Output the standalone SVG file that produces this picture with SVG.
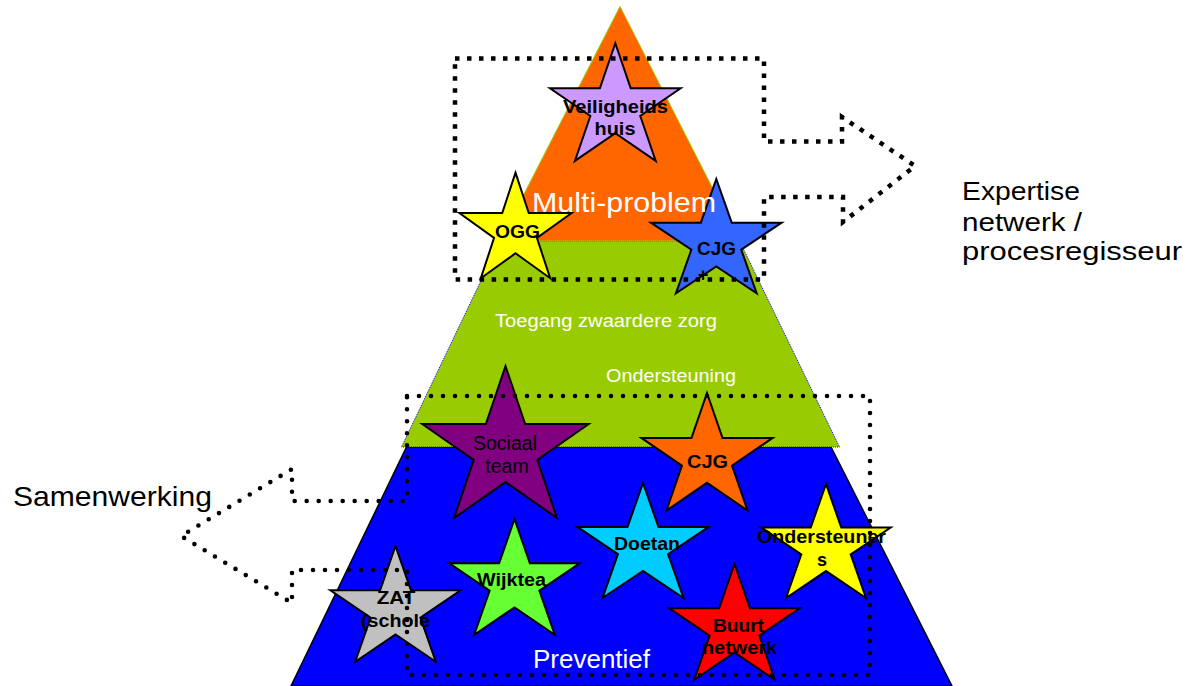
<svg xmlns="http://www.w3.org/2000/svg" xmlns:xlink="http://www.w3.org/1999/xlink" width="1187" height="686" viewBox="0 0 1187 686">
<style>
.lbl{font-family:"Liberation Sans",Arial,sans-serif;font-size:18px;font-weight:bold;fill:#000;text-anchor:middle}
.lbln{font-family:"Liberation Sans",Arial,sans-serif;font-size:19.5px;fill:#000;text-anchor:middle}
.wt{font-family:"Liberation Sans",Arial,sans-serif;fill:#fff}
.bk{font-family:"Liberation Sans",Arial,sans-serif;fill:#000}
.sq{fill:none;stroke:#000;stroke-width:4.5;stroke-dasharray:4.5 7.5;stroke-linecap:butt}
.rd{fill:none;stroke:#000;stroke-width:4.6;stroke-dasharray:0 12;stroke-linecap:round;stroke-linejoin:round}
</style>
<defs>
<path id="star" d="M0,-100 L22.45,-30.9 L95.11,-30.9 L36.33,11.8 L58.78,80.9 L0,38.2 L-58.78,80.9 L-36.33,11.8 L-95.11,-30.9 L-22.45,-30.9 Z" stroke="#000" stroke-width="2" vector-effect="non-scaling-stroke" stroke-linejoin="miter"/>
</defs>
<rect width="1187" height="686" fill="#fff"/>
<g id="pyramid">
<polygon id="layer-blue" points="406.5,447 831,447 952,686 291,686" fill="#0000FF" stroke="#000" stroke-width="1.5"/>
<polygon id="layer-green" points="500,241 739.5,241 839.5,447 401.5,447" fill="#99CC00" stroke="#0000FF" stroke-width="1" stroke-dasharray="1 1"/>
<polygon id="layer-orange" points="620,6.5 739.5,241 500,241" fill="#FF6600" stroke="#99CC00" stroke-width="1"/>
</g>
<g id="n-veiligheidshuis">
<use xlink:href="#star" transform="translate(615.3 108.3) scale(0.687 0.65)" fill="#CC99FF"/>
</g>
<g id="n-ogg">
<use xlink:href="#star" transform="translate(515.5 231) scale(0.59 0.584)" fill="#FFFF00"/>
</g>
<g id="n-cjgplus">
<use xlink:href="#star" transform="translate(716.3 242.2) scale(0.687 0.632)" fill="#3366FF"/>
</g>
<g id="n-sociaal">
<use xlink:href="#star" transform="translate(505.5 450) scale(0.875 0.84)" fill="#800080"/>
</g>
<g id="n-cjg">
<use xlink:href="#star" transform="translate(707 458) scale(0.69 0.65)" fill="#FF6600"/>
</g>
<g id="n-doetan">
<use xlink:href="#star" transform="translate(643 546.6) scale(0.69 0.636)" fill="#00CCFF"/>
</g>
<g id="n-ondersteuners">
<use xlink:href="#star" transform="translate(826 547) scale(0.68 0.63)" fill="#FFFF00"/>
</g>
<g id="n-wijkteam">
<use xlink:href="#star" transform="translate(514.5 583) scale(0.685 0.64)" fill="#66FF33"/>
</g>
<g id="n-zat">
<use xlink:href="#star" transform="translate(395.5 610) scale(0.685 0.64)" fill="#C0C0C0"/>
</g>
<g id="n-buurtnetwerk">
<use xlink:href="#star" transform="translate(734.5 628) scale(0.685 0.64)" fill="#FF0000"/>
</g>
<g id="layer-labels">
<text class="wt" x="532" y="212" font-size="28" textLength="184" lengthAdjust="spacingAndGlyphs">Multi-problem</text>
<text class="wt" x="495" y="327" font-size="18" textLength="222" lengthAdjust="spacingAndGlyphs">Toegang zwaardere zorg</text>
<text class="wt" x="606" y="382" font-size="18" textLength="130" lengthAdjust="spacingAndGlyphs">Ondersteuning</text>
<text class="wt" x="533" y="668" font-size="25" textLength="117" lengthAdjust="spacingAndGlyphs">Preventief</text>
</g>
<g id="star-labels">
<text class="lbl" x="615.5" y="113" textLength="105" lengthAdjust="spacingAndGlyphs">Veiligheids</text>
<text class="lbl" x="615" y="135" textLength="41" lengthAdjust="spacingAndGlyphs">huis</text>
<text class="lbl" x="517.5" y="238" textLength="45" lengthAdjust="spacingAndGlyphs">OGG</text>
<text class="lbl" x="716.5" y="255" textLength="39" lengthAdjust="spacingAndGlyphs">CJG</text>
<text class="lbl" x="703" y="281">+</text>
<text class="lbln" x="505" y="450">Sociaal</text>
<text class="lbln" x="507" y="473">team</text>
<text class="lbl" x="707.5" y="468" textLength="41" lengthAdjust="spacingAndGlyphs">CJG</text>
<text class="lbl" x="647" y="550" textLength="66" lengthAdjust="spacingAndGlyphs">Doetan</text>
<text class="lbl" x="821.5" y="543" textLength="129" lengthAdjust="spacingAndGlyphs">Ondersteuner</text>
<text class="lbl" x="822" y="565.5">s</text>
<text class="lbl" x="511.5" y="586" textLength="69" lengthAdjust="spacingAndGlyphs">Wijktea</text>
<text class="lbl" x="396" y="604" textLength="38.5" lengthAdjust="spacingAndGlyphs">ZAT</text>
<text class="lbl" x="395.5" y="627" textLength="69" lengthAdjust="spacingAndGlyphs">(schole</text>
<text class="lbl" x="738.5" y="632" textLength="51" lengthAdjust="spacingAndGlyphs">Buurt</text>
<text class="lbl" x="739.5" y="654" textLength="75" lengthAdjust="spacingAndGlyphs">netwerk</text>
</g>
<g id="side-labels">
<text class="bk" x="962" y="200" font-size="26" textLength="118" lengthAdjust="spacingAndGlyphs">Expertise</text>
<text class="bk" x="962" y="231" font-size="26" textLength="120" lengthAdjust="spacingAndGlyphs">netwerk /</text>
<text class="bk" x="962" y="260" font-size="26" textLength="220" lengthAdjust="spacingAndGlyphs">procesregisseur</text>
<text class="bk" x="13" y="506" font-size="28" textLength="199" lengthAdjust="spacingAndGlyphs">Samenwerking</text>
</g>
<g id="connectors">
<path class="sq" d="M455,58.5 H764 V141.5 H842 V117 L915,166 L843,222 V197 H764 V279.5 H455 Z"/>
<path class="rd" d="M407,396 H870 V675 H407 V570 H292 V603 L181,536 L292,469 V501 H407 Z"/>
</g>
</svg>
